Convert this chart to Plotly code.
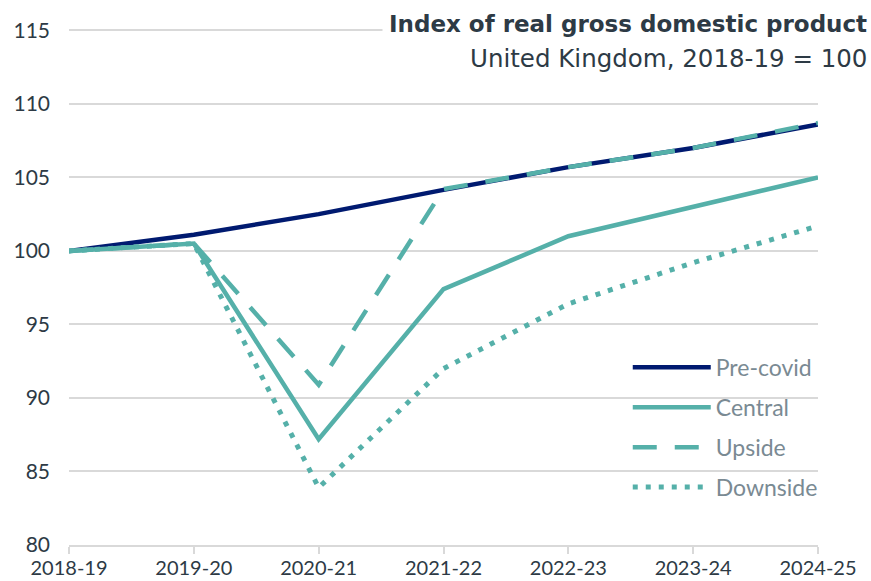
import plotly.graph_objects as go

years = ["2018-19", "2019-20", "2020-21", "2021-22", "2022-23", "2023-24", "2024-25"]
pre_covid = [100.0, 101.1, 102.5, 104.15, 105.7, 107.0, 108.6]
central = [100.0, 100.5, 87.2, 97.4, 101.0, 103.0, 105.0]
upside = [100.0, 100.5, 90.9, 104.2, 105.7, 107.0, 108.7]
downside = [100.0, 100.5, 83.9, 92.0, 96.4, 99.2, 101.7]
y_ticks = [80, 85, 90, 95, 100, 105, 110, 115]

NAVY = "#001a70"
TEAL = "#55b0a9"
TEXT = "#2d3a45"
FONT = "Lato"
TFONT = "DejaVu Sans"

fig = go.Figure()
fig.add_trace(go.Scatter(x=years, y=pre_covid, name="Pre-covid", mode="lines", legendgroup="a",
                         line=dict(color=NAVY, width=4.5)))
fig.add_trace(go.Scatter(x=years, y=central, name="Central", mode="lines", legendgroup="b",
                         line=dict(color=TEAL, width=4.5)))
fig.add_trace(go.Scatter(x=years, y=upside, name="Upside", mode="lines", legendgroup="c",
                         line=dict(color=TEAL, width=4.5, dash="24px,18px")))
fig.add_trace(go.Scatter(x=years, y=downside, name="Downside", mode="lines", legendgroup="d",
                         line=dict(color=TEAL, width=5, dash="5px,8px")))

fig.update_layout(
    width=871, height=581,
    margin=dict(l=69, r=53, t=23, b=36, autoexpand=False),
    paper_bgcolor="white", plot_bgcolor="white",
    font=dict(family=FONT, color=TEXT, size=20),
    showlegend=True,
    legend=dict(x=0.746, y=0.3814, xanchor="left", yanchor="top",
                bgcolor="rgba(0,0,0,0)", font=dict(size=23, color="#7a8a93"),
                tracegroupgap=7, itemwidth=78),
    xaxis=dict(type="category", range=[0, 6], showgrid=False, automargin=False,
               showline=True, linecolor="#d9d9d9", linewidth=2,
               ticks="outside", tickcolor="#d9d9d9", ticklen=7, tickwidth=2,
               ticklabelstandoff=-3,
               tickfont=dict(size=20, color=TEXT)),
    yaxis=dict(range=[80, 115.5], tickvals=y_ticks, showgrid=True, automargin=False,
               gridcolor="#d9d9d9", gridwidth=2, zeroline=False,
               showline=False, ticks="", ticklen=0, ticklabelstandoff=18,
               tickfont=dict(size=21, color=TEXT)),
)

# white panel behind legend hides the gridlines there
fig.add_shape(type="rect", xref="paper", yref="paper", x0=0.725, x1=1.0, y0=0.01, y1=0.355,
              fillcolor="white", line=dict(width=0), layer="between")

fig.add_annotation(xref="paper", yref="paper", x=1.0748, y=0.998, yanchor="middle",
                   xanchor="right", text="<b>Index of real gross domestic product</b>",
                   showarrow=False, bgcolor="white", borderpad=6,
                   font=dict(size=23, color=TEXT, family=TFONT))
fig.add_annotation(xref="paper", yref="paper", x=1.0748, y=0.9314, yanchor="middle",
                   xanchor="right", text="United Kingdom, 2018-19 = 100",
                   showarrow=False, borderpad=6,
                   font=dict(size=24.5, color=TEXT, family=TFONT))

fig.write_html("out.html", config={"displayModeBar": False},
               post_script="document.body.style.margin='0';")
